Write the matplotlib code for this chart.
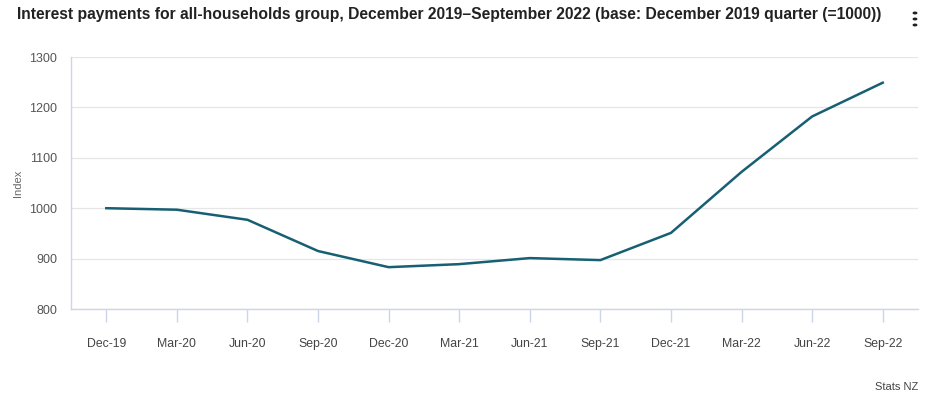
import matplotlib
matplotlib.use('Agg')
from matplotlib import pyplot as plt

plt.rcParams['font.family'] = ['Liberation Sans', 'DejaVu Sans']

quarters = ['Dec-19', 'Mar-20', 'Jun-20', 'Sep-20', 'Dec-20', 'Mar-21',
            'Jun-21', 'Sep-21', 'Dec-21', 'Mar-22', 'Jun-22', 'Sep-22']
index_values = [1000, 997, 977, 915, 883, 889, 901, 897, 951, 1072, 1182, 1249]
y_ticks = [800, 900, 1000, 1100, 1200, 1300]

W, H = 931, 418
fig = plt.figure(figsize=(W / 100, H / 100), dpi=100)
ax = fig.add_axes([71 / W, 1 - 309 / H, (918 - 71) / W, (309 - 57) / H])

x = list(range(len(quarters)))
ax.plot(x, index_values, color='#175f72', linewidth=1.8, zorder=3)

ax.set_xlim(-0.5, len(quarters) - 0.5)
ax.set_ylim(800, 1300)
ax.set_yticks(y_ticks)
ax.set_yticklabels([str(v) for v in y_ticks])
ax.set_xticks(x)
ax.set_xticklabels(quarters)

ax.grid(axis='y', color='#e6e6e6', linewidth=0.9)
ax.set_axisbelow(True)
for s in ['top', 'right']:
    ax.spines[s].set_visible(False)
for s in ['left', 'bottom']:
    ax.spines[s].set_color('#ccd6eb')
    ax.spines[s].set_linewidth(1)

ax.tick_params(axis='y', length=0, pad=10, labelsize=9, labelcolor='#555555')
ax.tick_params(axis='x', length=9, width=1, color='#ccd6eb', pad=12,
               labelsize=8.8, labelcolor='#444444')

fig.text(18 / W, 1 - 183 / H, 'Index', fontsize=8, color='#666666',
         rotation=90, ha='center', va='center')

fig.text(17 / W, 1 - 14 / H, 'Interest payments for all-households group, December 2019\u2013September 2022 (base: December 2019 quarter (=1000))',
         fontsize=11.25, fontweight='bold', color='#222222', va='center', ha='left')
# menu dots
for dy in (13, 19, 25):
    fig.patches.append(plt.Circle((915 / W, 1 - dy / H), 1.7 / W, transform=fig.transFigure,
                                  color='#222222'))
fig.text(918 / W, 1 - 387 / H, 'Stats NZ', fontsize=8, color='#444444',
         ha='right', va='center')

fig.savefig('out.png', dpi=100, facecolor='white')
